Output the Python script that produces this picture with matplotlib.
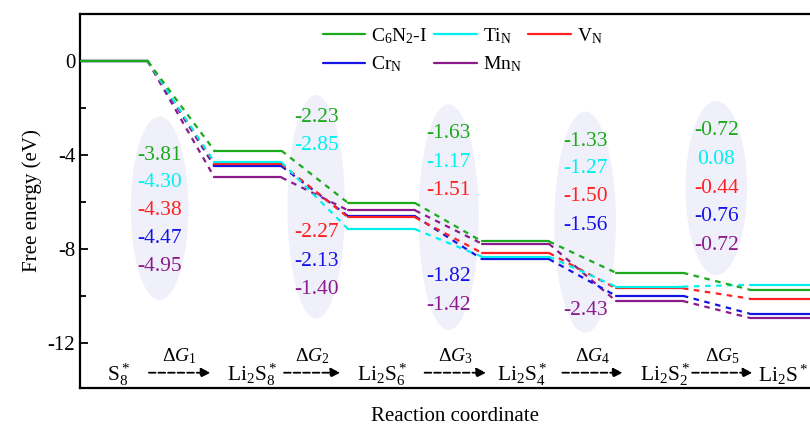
import numpy as np
import matplotlib
matplotlib.use("Agg")
from matplotlib import pyplot as plt
from matplotlib.patches import Ellipse

plt.rcParams['font.family'] = ['Liberation Serif', 'DejaVu Serif']
plt.rcParams['mathtext.fontset'] = 'custom'
plt.rcParams['mathtext.rm'] = 'Liberation Serif'
plt.rcParams['mathtext.it'] = 'Liberation Serif:italic'
plt.rcParams['axes.unicode_minus'] = False

# step free energies (eV) for each catalyst
labels = [r'C$_6$N$_2$-I', r'Ti$_\mathrm{N}$', r'V$_\mathrm{N}$', r'Cr$_\mathrm{N}$', r'Mn$_\mathrm{N}$']
colors = ['#1aaa1a', '#00f0f0', '#ff2020', '#1414e6', '#8b1a8b']
dG_c6n2 = [-3.81, -2.23, -1.63, -1.33, -0.72]
dG_ti = [-4.30, -2.85, -1.17, -1.27, 0.08]
dG_v = [-4.38, -2.27, -1.51, -1.50, -0.44]
dG_cr = [-4.47, -2.13, -1.82, -1.56, -0.76]
dG_mn = [-4.95, -1.40, -1.42, -2.43, -0.72]
steps = [dG_c6n2, dG_ti, dG_v, dG_cr, dG_mn]

states = [r'S$_8^*$', r'Li$_2$S$_8^*$', r'Li$_2$S$_6^*$', r'Li$_2$S$_4^*$', r'Li$_2$S$_2^*$', r'Li$_2$S$^*$']
state_x = [0.03, 1.03, 2.0, 3.05, 4.12, 5.0]
arrow_x = [(0.26, 0.72), (1.27, 1.69), (2.32, 2.78), (3.35, 3.80), (4.32, 4.77)]

# ellipse (cx, cy, w, h) and label y positions for each step
ell = [(0.34, -6.26, 0.43, 7.8), (1.51, -6.2, 0.43, 9.5), (2.5, -6.64, 0.45, 9.6),
       (3.52, -6.85, 0.46, 9.4), (4.5, -5.4, 0.46, 7.4)]
txt_y = [[-4.0, -5.17, -6.36, -7.55, -8.74],
         [-2.38, -3.6, -7.28, -8.52, -9.72],
         [-3.1, -4.3, -5.5, -9.15, -10.38],
         [-3.4, -4.56, -5.76, -6.98, -10.6],
         [-2.94, -4.2, -5.4, -6.6, -7.86]]

fig = plt.figure(figsize=(8.1, 4.29), dpi=100)
ax = fig.add_axes([80 / 810, 41 / 429, 750 / 810, 374 / 429])

for k, e in enumerate(ell):
    ax.add_patch(Ellipse((e[0], e[1]), e[2], e[3], facecolor='#f0f0fb', edgecolor='none', zorder=0))

hw = 0.25
for n, (s, col, lab) in enumerate(zip(steps, colors, labels)):
    G = np.concatenate([[0.0], np.cumsum(s)])
    z = 3 - 0.1 * n  # first series on top
    for i, g in enumerate(G):
        ax.plot([i - hw, i + hw], [g, g], color=col, lw=1.6, solid_capstyle='round', zorder=z,
                label=lab if i == 0 else None)
        if i < len(G) - 1:
            ax.plot([i + hw, i + 1 - hw], [g, G[i + 1]], color=col, lw=1.6, ls=(0, (2.5, 2.5)), zorder=z - 1)

for k in range(5):
    for j in range(5):
        v = steps[j][k]
        ax.text(ell[k][0], txt_y[k][j], '%.2f' % v, color=colors[j], fontsize=15.5,
                ha='center', va='center', zorder=4)

for x, s in zip(state_x, states):
    ax.text(x, -13.35, s, fontsize=15.5, ha='center', va='center')
for k, (x0, x1) in enumerate(arrow_x):
    ax.annotate('', xy=(x1, -13.25), xytext=(x0, -13.25),
                arrowprops=dict(arrowstyle='-|>', ls='--', lw=1.3, color='black',
                                mutation_scale=14, shrinkA=0, shrinkB=0))
    ax.text((x0 + x1) / 2, -12.55, r'$\Delta G_%d$' % (k + 1), fontsize=14, ha='center', va='center')

ax.set_xlim(-0.255, 5.35)
ax.set_ylim(-13.9, 2.0)
ax.set_xticks([])
ax.set_yticks([0, -4, -8, -12])
ax.set_yticks([-2, -6, -10], minor=True)
ax.tick_params(axis='y', which='major', direction='in', length=6, width=1.3, labelsize=15)
ax.tick_params(axis='y', which='minor', direction='in', length=4, width=1.3)
for sp in ax.spines.values():
    sp.set_linewidth(1.6)
ax.set_ylabel('Free energy (eV)', fontsize=15)
ax.set_xlabel('Reaction coordinate', fontsize=15, labelpad=14)

h, l = ax.get_legend_handles_labels()
order = [0, 3, 1, 4, 2]
ax.legend([h[i] for i in order], [l[i] for i in order], ncol=3, frameon=False, fontsize=14,
          loc='upper left', bbox_to_anchor=(0.3, 1.015), handlelength=2.2, handletextpad=0.3,
          columnspacing=0.35, labelspacing=0.45)

plt.savefig('out.png', dpi=100)
